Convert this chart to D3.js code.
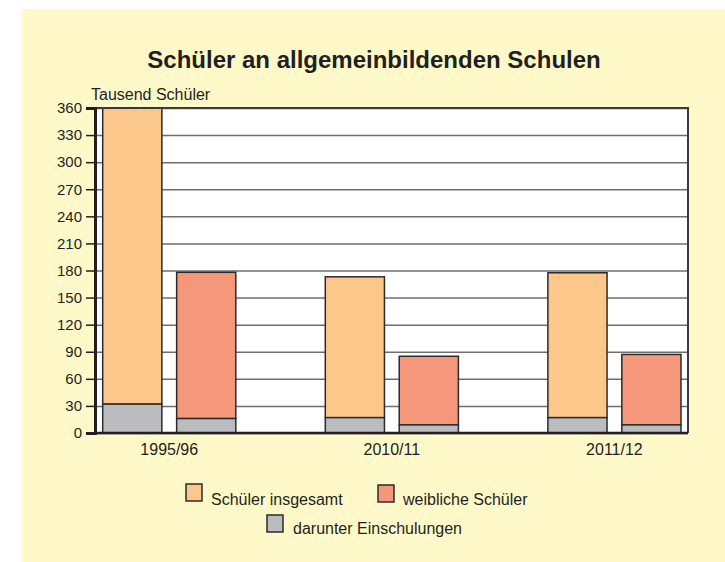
<!DOCTYPE html>
<html>
<head>
<meta charset="utf-8">
<script src="https://cdn.jsdelivr.net/npm/d3@7"></script>
<style>
  body { margin: 0; background: #fff; }
  text { font-family: "Liberation Sans", Arial, sans-serif; fill: #231f20; }
</style>
</head>
<body>
<div id="main-div"></div>
<script>
// data (thousand pupils)
var years = ["1995/96", "2010/11", "2011/12"];
var insgesamt = [360, 173, 177.5];
var insgesamtEinsch = [32, 17, 17];
var weiblich = [178, 85, 87];
var weiblichEinsch = [16, 9, 9];
var yTicks = [0, 30, 60, 90, 120, 150, 180, 210, 240, 270, 300, 330, 360];
var legendItems = [
  { label: "Schüler insgesamt", color: "#fbc78a" },
  { label: "weibliche Schüler", color: "#f4977a" },
  { label: "darunter Einschulungen", color: "#bbbcc0" }
];

var W = 725, H = 562;
var plot = { left: 95, right: 688, top: 108, bottom: 433 };

var svg = d3.select("#main-div")
  .append("svg")
  .attr("width", W)
  .attr("height", H);

// yellow panel
svg.append("rect")
  .attr("x", 22).attr("y", 9)
  .attr("width", W - 22).attr("height", H - 9)
  .attr("fill", "#fff9c9");

// title
svg.append("text")
  .attr("x", 374).attr("y", 68)
  .attr("text-anchor", "middle")
  .style("font-size", "24px")
  .style("font-weight", "bold")
  .text("Schüler an allgemeinbildenden Schulen");

svg.append("text")
  .attr("x", 91).attr("y", 100)
  .style("font-size", "16px")
  .text("Tausend Schüler");

// plot background
svg.append("rect")
  .attr("x", plot.left).attr("y", plot.top)
  .attr("width", plot.right - plot.left)
  .attr("height", plot.bottom - plot.top)
  .attr("fill", "#fff");

var y = d3.scaleLinear().domain([0, 360]).range([plot.bottom, plot.top]);

var x0 = d3.scaleBand()
  .domain(years)
  .range([102.7, 681])
  .paddingInner(0.402)
  .paddingOuter(0);

var x1 = d3.scaleBand()
  .domain(["gesamt", "weiblich"])
  .range([0, x0.bandwidth()])
  .paddingInner(0.2);

// gridlines
svg.append("g")
  .attr("transform", "translate(" + plot.left + ",0)")
  .call(d3.axisLeft(y).tickValues(yTicks).tickSize(-(plot.right - plot.left)).tickFormat(""))
  .call(function (g) {
    g.select(".domain").remove();
    g.selectAll("line").attr("stroke", "#6e6e6e").attr("stroke-width", 1.5);
  });

// bars
var groups = [];
for (var i = 0; i < years.length; i++) {
  groups.push({ year: years[i], key: "gesamt", total: insgesamt[i], sub: insgesamtEinsch[i], color: legendItems[0].color });
  groups.push({ year: years[i], key: "weiblich", total: weiblich[i], sub: weiblichEinsch[i], color: legendItems[1].color });
}

var bar = svg.append("g").selectAll("g")
  .data(groups)
  .enter()
  .append("g")
  .attr("transform", function (d) { return "translate(" + (x0(d.year) + x1(d.key)) + ",0)"; });

bar.append("rect")
  .attr("x", 0)
  .attr("width", x1.bandwidth())
  .attr("y", function (d) { return y(d.total); })
  .attr("height", function (d) { return y(d.sub) - y(d.total); })
  .attr("fill", function (d) { return d.color; })
  .attr("stroke", "#2b2b2b")
  .attr("stroke-width", 1.5);

bar.append("rect")
  .attr("x", 0)
  .attr("width", x1.bandwidth())
  .attr("y", function (d) { return y(d.sub); })
  .attr("height", function (d) { return y(0) - y(d.sub); })
  .attr("fill", legendItems[2].color)
  .attr("stroke", "#2b2b2b")
  .attr("stroke-width", 1.5);

// frame
svg.append("path")
  .attr("d", "M" + plot.left + "," + plot.top + "H" + plot.right + "V" + plot.bottom)
  .attr("fill", "none")
  .attr("stroke", "#3a3a3a")
  .attr("stroke-width", 2);

// y axis
svg.append("g")
  .attr("transform", "translate(" + plot.left + ",0)")
  .call(d3.axisLeft(y).tickValues(yTicks).tickSize(9).tickPadding(4))
  .call(function (g) {
    g.select(".domain").attr("stroke", "#231f20").attr("stroke-width", 3);
    g.selectAll("line").attr("stroke", "#231f20").attr("stroke-width", 1.5);
    g.selectAll("text").style("font-size", "15px").style("font-family", null).attr("fill", "#231f20");
  });

// x axis
svg.append("g")
  .attr("transform", "translate(0," + plot.bottom + ")")
  .call(d3.axisBottom(x0).tickSize(0).tickPadding(11))
  .call(function (g) {
    g.select(".domain").attr("d", "M" + plot.left + ",0H" + plot.right).attr("stroke", "#231f20").attr("stroke-width", 2.5);
    g.selectAll("text").style("font-size", "16px").style("font-family", null).attr("fill", "#231f20");
  });

// legend
var legendPos = [
  { x: 186, y: 484, tx: 211, ty: 505 },
  { x: 378, y: 485, tx: 403, ty: 505 },
  { x: 267, y: 515, tx: 293, ty: 534 }
];
var leg = svg.append("g").selectAll("g")
  .data(legendItems)
  .enter()
  .append("g");

leg.append("rect")
  .attr("x", function (d, i) { return legendPos[i].x; })
  .attr("y", function (d, i) { return legendPos[i].y; })
  .attr("width", 16).attr("height", 17)
  .attr("fill", function (d) { return d.color; })
  .attr("stroke", "#2b2b2b")
  .attr("stroke-width", 1.5);

leg.append("text")
  .attr("x", function (d, i) { return legendPos[i].tx; })
  .attr("y", function (d, i) { return legendPos[i].ty; })
  .style("font-size", "16px")
  .text(function (d) { return d.label; });
</script>
</body>
</html>
